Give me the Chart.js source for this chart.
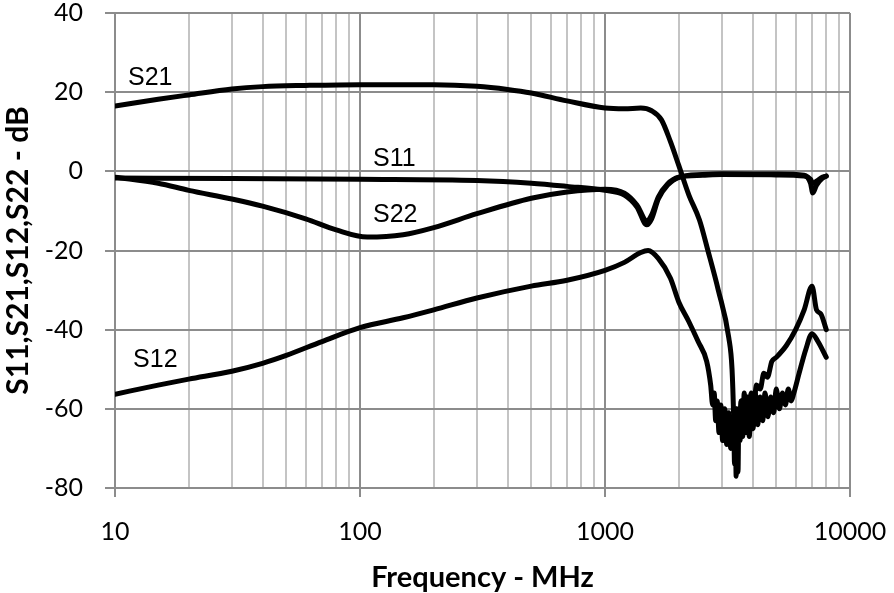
<!DOCTYPE html>
<html>
<head>
<meta charset="utf-8">
<script src="https://cdn.jsdelivr.net/npm/chart.js@4.4.1/dist/chart.umd.min.js"></script>
<style>
  html, body { margin: 0; padding: 0; background: #ffffff; }
  #wrap { width: 894px; height: 593px; position: relative; }
</style>
</head>
<body>
<div id="wrap"><canvas id="c" width="894" height="593"></canvas></div>
<script>
// ---- Data ----
const xTickLabels = [10, 100, 1000, 10000];
const yTickValues = [-80, -60, -40, -20, 0, 20, 40];

const freqS21 = [10, 15, 20, 30, 40, 60, 100, 200, 300, 400, 500, 700, 1000, 1200, 1400, 1550, 1700, 1850, 2000, 2200, 2430, 2630, 2900, 3200, 3300, 3350, 3380, 3400, 3430, 3460, 3490, 3520, 3560, 3600, 3650, 3700, 3760, 3820, 3880, 3950, 4020, 4100, 4200, 4300, 4400, 4500, 4620, 4750, 4880, 5000, 5150, 5300, 5450, 5600, 5750, 5900, 6200, 6600, 7000, 7400, 8000];
const dbS21   = [16.5, 18.2, 19.3, 20.8, 21.4, 21.7, 21.9, 21.9, 21.5, 20.7, 19.8, 17.8, 16.0, 15.8, 16.0, 15.3, 13.0, 7.5, 1.5, -6, -12.3, -20, -30, -42, -50, -62, -74, -60, -77, -62, -76, -60, -68, -58, -67, -56, -66, -57, -67, -58, -65, -56, -64, -57, -63, -56, -62, -57, -61, -55, -60, -56, -59, -55, -58, -56, -51, -45, -41, -43, -47];

const freqS12 = [10, 15, 20, 30, 40, 50, 70, 100, 150, 200, 300, 500, 700, 1000, 1200, 1400, 1500, 1650, 1850, 2000, 2200, 2400, 2600, 2700, 2750, 2790, 2830, 2870, 2920, 2970, 3020, 3080, 3140, 3200, 3260, 3320, 3380, 3450, 3520, 3600, 3680, 3760, 3850, 3950, 4050, 4150, 4300, 4450, 4600, 4800, 5000, 5500, 6000, 6500, 7000, 7300, 7600, 8000];
const dbS12   = [-56.3, -54, -52.5, -50.5, -48.5, -46.5, -43, -39.5, -37, -35, -32, -29, -27.5, -25, -23, -20.5, -20, -22, -27, -33, -38, -43, -48, -54, -59, -56, -63, -58, -66, -59, -68, -60, -69, -61, -70, -62, -68, -60, -66, -58, -64, -57, -62, -56, -59, -54, -55, -51, -52, -48, -47, -44, -40, -35, -29, -35, -36, -40];

const freqS11 = [10, 30, 100, 300, 500, 700, 1000, 1200, 1350, 1480, 1550, 1650, 1800, 2000, 2500, 3000, 5000, 6500, 6900, 7050, 7300, 7700, 8000];
const dbS11   = [-1.7, -1.8, -2.0, -2.3, -3.0, -3.8, -4.8, -6.0, -9.0, -13.5, -12.0, -7.0, -3.5, -1.5, -0.8, -0.6, -0.7, -1.0, -3.0, -5.5, -3.5, -1.8, -1.2];

const freqS22 = [10, 15, 20, 30, 40, 60, 80, 107, 150, 200, 300, 500, 700, 1000, 1200, 1350, 1480, 1550, 1650, 1800, 2000, 2500, 3000, 5000, 6500, 6900, 7050, 7300, 7700, 8000];
const dbS22   = [-1.5, -3.0, -4.8, -7.0, -8.8, -12.0, -14.8, -16.6, -16.0, -14.2, -10.7, -6.8, -5.2, -4.5, -5.5, -8.5, -12.5, -11.0, -6.5, -3.2, -1.5, -1.0, -0.8, -0.9, -1.2, -2.0, -3.0, -2.5, -1.5, -1.2];

// annotation texts with their anchor in data coordinates (left, baseline)
const seriesNames = ['S21', 'S11', 'S22', 'S12'];
const nameFreq    = [11.3, 113, 113, 11.85];
const nameDb      = [21.8, 1.3, -12.8, -49.4];

const xTitle = 'Frequency - MHz';
const yTitle = 'S11,S21,S12,S22 - dB';

// ---- helpers ----
function pts(xs, ys) { return xs.map((x, i) => ({ x: x, y: ys[i] })); }
function isDecade(v) { const l = Math.log10(v); return Math.abs(l - Math.round(l)) < 1e-9; }

const gridTicks = [];
for (let d = 10; d < 10000; d *= 10) for (let m = 1; m < 10; m++) gridTicks.push(m * d);
gridTicks.push(10000);

function ds(label, xs, ys) {
  return {
    label: label,
    data: pts(xs, ys),
    borderColor: '#000000',
    borderWidth: 5,
    pointRadius: 0,
    fill: false,
    cubicInterpolationMode: 'monotone',
    borderJoinStyle: 'round',
    borderCapStyle: 'round'
  };
}

const textPlugin = {
  id: 'texts',
  beforeDraw(chart) {
    const c = chart.ctx;
    c.save();
    c.fillStyle = '#ffffff';
    c.fillRect(0, 0, chart.width, chart.height);
    c.restore();
  },
  afterDraw(chart) {
    const c = chart.ctx;
    const xs = chart.scales.x, ys = chart.scales.y;
    c.save();
    c.fillStyle = '#000000';
    c.font = '25px "Liberation Sans", Arial, sans-serif';
    c.textAlign = 'left';
    c.textBaseline = 'alphabetic';
    seriesNames.forEach((n, i) => {
      c.fillText(n, xs.getPixelForValue(nameFreq[i]), ys.getPixelForValue(nameDb[i]));
    });
    const area = chart.chartArea;
    c.font = 'bold 29px Lato, "Open Sans", sans-serif';
    c.textAlign = 'center';
    c.fillText(xTitle, (area.left + area.right) / 2, 587);
    c.translate(28, (area.top + area.bottom) / 2);
    c.rotate(-Math.PI / 2);
    c.font = 'bold 30px Lato, "Open Sans", sans-serif';
    c.fillText(yTitle, 0, 0);
    c.restore();
  }
};

new Chart(document.getElementById('c'), {
  type: 'line',
  data: {
    datasets: [
      ds('S21', freqS21, dbS21),
      ds('S12', freqS12, dbS12),
      ds('S11', freqS11, dbS11),
      ds('S22', freqS22, dbS22)
    ]
  },
  options: {
    responsive: false,
    animation: false,
    devicePixelRatio: 1,
    layout: { padding: { top: 13, right: 44, left: 0, bottom: 0 } },
    plugins: { legend: { display: false }, tooltip: { enabled: false }, title: { display: false } },
    scales: {
      x: {
        type: 'logarithmic',
        min: 10,
        max: 10000,
        afterBuildTicks(scale) { scale.ticks = gridTicks.map(v => ({ value: v })); },
        afterFit(scale) { scale.height = 105; scale.paddingLeft = 0; scale.paddingRight = 0; },
        border: { display: true, color: '#8c8c8c', width: 2 },
        grid: {
          color: ctx => (ctx.tick && isDecade(ctx.tick.value)) ? '#8c8c8c' : '#c4c4c4',
          tickColor: ctx => (ctx.tick && isDecade(ctx.tick.value)) ? '#8c8c8c' : 'rgba(0,0,0,0)',
          lineWidth: 2,
          tickLength: 9
        },
        ticks: {
          autoSkip: false,
          maxRotation: 0,
          minRotation: 0,
          padding: 20,
          color: '#000000',
          font: { family: 'Lato, "Open Sans", sans-serif', size: 25 },
          callback: (v) => xTickLabels.includes(v) ? String(v) : ''
        }
      },
      y: {
        type: 'linear',
        min: -80,
        max: 40,
        afterBuildTicks(scale) { scale.ticks = yTickValues.map(v => ({ value: v })); },
        afterFit(scale) { scale.width = 115; scale.paddingTop = 0; scale.paddingBottom = 0; },
        border: { display: true, color: '#8c8c8c', width: 2 },
        grid: { color: '#8c8c8c', lineWidth: 2, tickLength: 10, tickColor: '#8c8c8c' },
        ticks: {
          padding: 22,
          color: '#000000',
          font: { family: 'Lato, "Open Sans", sans-serif', size: 25 }
        }
      }
    }
  },
  plugins: [textPlugin]
});
</script>
</body>
</html>
